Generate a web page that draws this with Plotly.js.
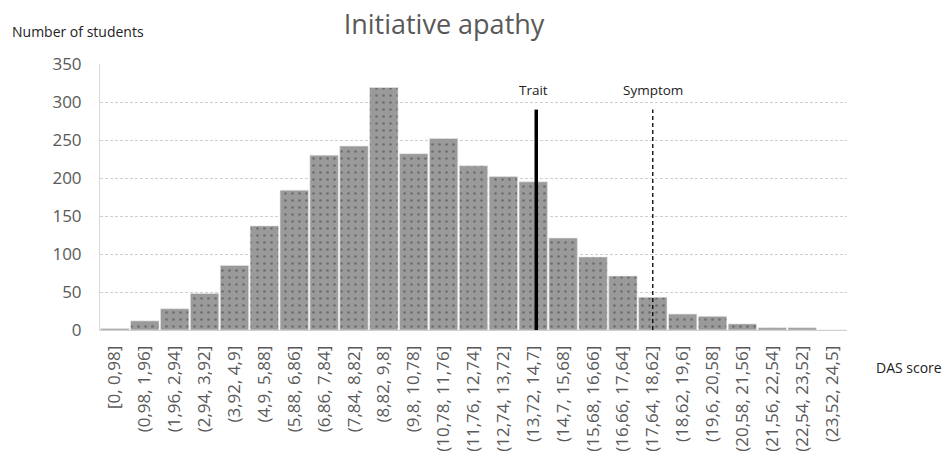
<!DOCTYPE html>
<html>
<head>
<meta charset="utf-8">
<script src="https://cdn.plot.ly/plotly-3.0.1.min.js"></script>
<style>html,body{margin:0;padding:0;background:#fff;}#chart{width:943px;height:465px;}</style>
</head>
<body>
<div id="chart"></div>
<script>
const categories = ["[0, 0,98]","(0,98, 1,96]","(1,96, 2,94]","(2,94, 3,92]","(3,92, 4,9]","(4,9, 5,88]","(5,88, 6,86]","(6,86, 7,84]","(7,84, 8,82]","(8,82, 9,8]","(9,8, 10,78]","(10,78, 11,76]","(11,76, 12,74]","(12,74, 13,72]","(13,72, 14,7]","(14,7, 15,68]","(15,68, 16,66]","(16,66, 17,64]","(17,64, 18,62]","(18,62, 19,6]","(19,6, 20,58]","(20,58, 21,56]","(21,56, 22,54]","(22,54, 23,52]","(23,52, 24,5]"];
const students = [2, 12, 28, 48, 85, 137, 184, 230, 242, 319, 232, 252, 216, 202, 195, 121, 96, 71, 43, 21, 18, 8, 3, 3, 0];
const yTicks = [0, 50, 100, 150, 200, 250, 300, 350];
const cutoffNames = ["Trait", "Symptom"];
const cutoffPositions = [14.1, 18.0];   // in bin-index units
const cutoffTop = [290, 290];

const idx = categories.map((c, i) => i);
const gray = "#595959";
const font = "Open Sans, DejaVu Sans, sans-serif";

const data = [{
  type: "bar",
  x: idx,
  y: students,
  marker: {
    color: "#9a9a9a",
    line: {color: "#e8e8e8", width: 0.6},
    pattern: {shape: ".", fgcolor: "#6e6e6e", bgcolor: "#9a9a9a", size: 7, solidity: 0.12}
  },
  hoverinfo: "x+y",
  showlegend: false
}, {
  type: "scatter", mode: "lines",
  x: [cutoffPositions[0], cutoffPositions[0]], y: [0, cutoffTop[0]],
  line: {color: "#000", width: 3.5}, showlegend: false, hoverinfo: "skip"
}, {
  type: "scatter", mode: "lines",
  x: [cutoffPositions[1], cutoffPositions[1]], y: [0, cutoffTop[1]],
  line: {color: "#000", width: 1.3, dash: "4px,3px"}, showlegend: false, hoverinfo: "skip"
}];

const layout = {
  width: 943, height: 465,
  margin: {l: 100, r: 96, t: 64, b: 135},
  paper_bgcolor: "#fff", plot_bgcolor: "#fff",
  bargap: 0.05,
  font: {family: font, color: gray},
  title: {text: "Initiative apathy", font: {size: 27, color: gray, family: font},
          x: 444/943, xanchor: "center", yref: "container", y: 1 - 25/465, yanchor: "middle"},
  xaxis: {
    range: [-0.5, 24.5],
    tickvals: idx, ticktext: categories, tickangle: -90,
    tickfont: {size: 17, color: gray, family: font},
    showgrid: false, zeroline: false,
    showline: true, linecolor: "#d0d0d0", linewidth: 1,
    ticks: "", ticklabelstandoff: 8, fixedrange: true
  },
  yaxis: {
    range: [0, 350],
    tickvals: yTicks,
    tickfont: {size: 17, color: gray, family: font},
    showgrid: true, gridcolor: "#cfcfcf", griddash: "3px,2px", gridwidth: 1,
    zeroline: false,
    showline: true, linecolor: "#d9d9d9", linewidth: 1,
    ticks: "", ticklabelstandoff: 14, fixedrange: true
  },
  annotations: [
    {text: "Number of students", xref: "paper", yref: "paper", x: -90/747, y: 1 + 33/266,
     xanchor: "left", yanchor: "middle", showarrow: false, font: {size: 14, color: "#222"}},
    {text: "DAS score", xref: "paper", yref: "paper", x: 1 + 27/747, y: -37/266,
     xanchor: "left", yanchor: "middle", showarrow: false, font: {size: 14, color: "#222"}},
    {text: cutoffNames[0], xref: "x", yref: "y", x: cutoffPositions[0] - 0.1, y: 316,
     xanchor: "center", yanchor: "middle", showarrow: false, font: {size: 13.5, color: "#222"}},
    {text: cutoffNames[1], xref: "x", yref: "y", x: cutoffPositions[1], y: 316,
     xanchor: "center", yanchor: "middle", showarrow: false, font: {size: 13.5, color: "#222"}}
  ]
};

Plotly.newPlot("chart", data, layout, {displayModeBar: false, staticPlot: true});
</script>
</body>
</html>
